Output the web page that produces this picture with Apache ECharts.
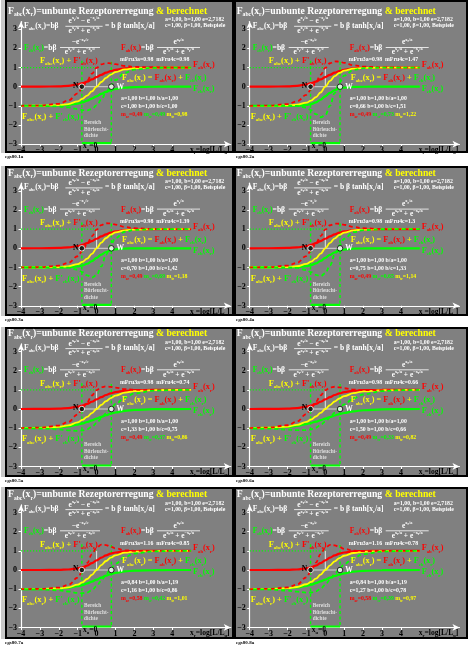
<!DOCTYPE html>
<html><head><meta charset="utf-8">
<script src="https://cdn.jsdelivr.net/npm/echarts@6/dist/echarts.min.js"></script>
<style>html,body{margin:0;padding:0;background:#fff}#c{width:468px;height:646px}</style>
</head><body><div id="c"></div><script>
// ---------- data ----------
const XS = [-4,-3,-2,-1.5,-1,-0.75,-0.5,-0.25,0,0.25,0.5,0.75,1,1.5,2,3,4,5];
const X_TICKS = [-4,-3,-2,-1,0,1,2,3,4];
const Y_TICKS = [-3,-2,-1,0,1,2,3];
// F_ab (red solid)
const F_AB_A100 = [0.000,0.002,0.018,0.047,0.119,0.182,0.269,0.378,0.500,0.622,0.731,0.818,0.881,0.953,0.982,0.998,1.000,1.000];
const F_AB_A084 = [0.000,0.001,0.009,0.027,0.085,0.144,0.233,0.356,0.500,0.645,0.767,0.856,0.915,0.973,0.992,0.999,1.000,1.000];
// F_cb (green solid)
const F_CB_1 = [-1.000,-0.998,-0.982,-0.953,-0.881,-0.818,-0.731,-0.622,-0.500,-0.378,-0.269,-0.182,-0.119,-0.047,-0.018,-0.002,0.000,0.000];
const F_CB_2 = [-1.000,-1.000,-0.998,-0.990,-0.954,-0.907,-0.820,-0.681,-0.500,-0.319,-0.180,-0.093,-0.046,-0.011,-0.002,0.000,0.000,0.000];
const F_CB_3 = [-1.000,-1.000,-0.997,-0.986,-0.946,-0.895,-0.807,-0.671,-0.500,-0.329,-0.193,-0.105,-0.054,-0.014,-0.003,0.000,0.000,0.000];
const F_CB_4 = [-1.000,-1.000,-0.995,-0.982,-0.935,-0.881,-0.791,-0.661,-0.500,-0.339,-0.209,-0.119,-0.065,-0.018,-0.005,0.000,0.000,0.000];
const F_CB_5 = [-0.998,-0.989,-0.953,-0.905,-0.818,-0.755,-0.680,-0.593,-0.500,-0.407,-0.320,-0.245,-0.182,-0.095,-0.047,-0.011,-0.002,-0.001];
const F_CB_6 = [-0.995,-0.982,-0.935,-0.881,-0.791,-0.731,-0.661,-0.583,-0.500,-0.417,-0.339,-0.269,-0.209,-0.119,-0.065,-0.018,-0.005,-0.001];
const F_CB_7 = [-0.999,-0.994,-0.969,-0.930,-0.849,-0.785,-0.703,-0.606,-0.500,-0.394,-0.297,-0.215,-0.151,-0.070,-0.031,-0.006,-0.001,0.000];
const F_CB_8 = [-0.998,-0.991,-0.959,-0.914,-0.828,-0.765,-0.687,-0.597,-0.500,-0.403,-0.313,-0.235,-0.172,-0.086,-0.041,-0.009,-0.002,0.000];
// F_abc (yellow solid)
const F_ABC_1 = [-0.999,-0.995,-0.964,-0.905,-0.762,-0.635,-0.462,-0.245,0.000,0.245,0.462,0.635,0.762,0.905,0.964,0.995,0.999,1.000];
const F_ABC_2 = [-1.000,-0.998,-0.980,-0.942,-0.835,-0.724,-0.551,-0.303,0.000,0.303,0.551,0.724,0.835,0.942,0.980,0.998,1.000,1.000];
const F_ABC_3 = [-1.000,-0.997,-0.979,-0.939,-0.827,-0.713,-0.538,-0.294,0.000,0.294,0.538,0.713,0.827,0.939,0.979,0.997,1.000,1.000];
const F_ABC_4 = [-1.000,-0.997,-0.977,-0.935,-0.816,-0.698,-0.523,-0.283,0.000,0.283,0.523,0.698,0.816,0.935,0.977,0.997,1.000,1.000];
const F_ABC_5 = [-0.997,-0.987,-0.935,-0.858,-0.699,-0.573,-0.411,-0.215,0.000,0.215,0.411,0.573,0.699,0.858,0.935,0.987,0.997,0.999];
const F_ABC_6 = [-0.995,-0.980,-0.917,-0.833,-0.672,-0.549,-0.392,-0.205,0.000,0.205,0.392,0.549,0.672,0.833,0.917,0.980,0.995,0.999];
const F_ABC_7 = [-0.999,-0.994,-0.961,-0.903,-0.764,-0.641,-0.470,-0.251,0.000,0.251,0.470,0.641,0.764,0.903,0.961,0.994,0.999,1.000];
const F_ABC_8 = [-0.998,-0.990,-0.950,-0.887,-0.744,-0.622,-0.454,-0.242,0.000,0.242,0.454,0.622,0.744,0.887,0.950,0.990,0.998,1.000];
// F_abc + F'_ab (red dashed)
const F_ABD_1 = [-0.998,-0.986,-0.895,-0.728,-0.350,-0.050,0.309,0.676,0.980,1.166,1.233,1.220,1.174,1.082,1.033,1.005,1.000,1.000];
const F_ABD_2 = [-0.998,-0.988,-0.910,-0.765,-0.423,-0.140,0.220,0.618,0.980,1.225,1.322,1.309,1.246,1.119,1.049,1.007,1.001,1.000];
const F_ABD_3 = [-0.998,-0.988,-0.909,-0.762,-0.415,-0.128,0.233,0.627,0.980,1.215,1.309,1.297,1.238,1.116,1.048,1.007,1.001,1.000];
const F_ABD_4 = [-0.998,-0.988,-0.908,-0.757,-0.404,-0.114,0.248,0.638,0.980,1.204,1.293,1.283,1.228,1.112,1.047,1.007,1.001,1.000];
const F_ABD_5 = [-0.996,-0.977,-0.866,-0.681,-0.287,0.012,0.360,0.706,0.980,1.137,1.182,1.158,1.111,1.035,1.004,0.996,0.999,0.999];
const F_ABD_6 = [-0.994,-0.970,-0.848,-0.656,-0.261,0.036,0.379,0.716,0.980,1.126,1.163,1.133,1.084,1.011,0.986,0.989,0.996,0.999];
const F_ABD_7 = [-0.999,-0.990,-0.921,-0.779,-0.402,-0.067,0.364,0.818,1.167,1.320,1.304,1.215,1.126,1.027,1.000,0.997,0.999,1.000];
const F_ABD_8 = [-0.998,-0.987,-0.911,-0.763,-0.382,-0.048,0.380,0.827,1.167,1.311,1.289,1.196,1.105,1.011,0.990,0.994,0.998,1.000];
// F_abc + F'_cb (green dashed)
const F_CBD_1 = [-1.001,-1.005,-1.033,-1.082,-1.174,-1.220,-1.233,-1.166,-0.980,-0.676,-0.309,0.050,0.350,0.728,0.895,0.986,0.998,1.000];
const F_CBD_2 = [-1.000,-0.998,-0.994,-1.004,-1.096,-1.227,-1.428,-1.594,-1.485,-0.987,-0.327,0.221,0.574,0.880,0.966,0.997,1.000,1.000];
const F_CBD_3 = [-1.000,-0.999,-0.997,-1.014,-1.114,-1.239,-1.411,-1.529,-1.400,-0.942,-0.335,0.186,0.539,0.864,0.960,0.996,1.000,1.000];
const F_CBD_4 = [-1.000,-0.999,-1.002,-1.027,-1.133,-1.247,-1.385,-1.455,-1.307,-0.888,-0.340,0.150,0.499,0.842,0.952,0.995,1.000,1.000];
const F_CBD_5 = [-1.004,-1.018,-1.067,-1.111,-1.138,-1.118,-1.053,-0.927,-0.737,-0.496,-0.231,0.029,0.261,0.605,0.803,0.955,0.990,0.998];
const F_CBD_6 = [-1.007,-1.026,-1.076,-1.108,-1.104,-1.062,-0.978,-0.841,-0.653,-0.431,-0.194,0.035,0.241,0.559,0.758,0.933,0.982,0.995];
const F_CBD_7 = [-1.002,-1.013,-1.062,-1.123,-1.198,-1.212,-1.175,-1.058,-0.845,-0.556,-0.235,0.070,0.330,0.682,0.860,0.975,0.996,0.999];
const F_CBD_8 = [-1.004,-1.017,-1.072,-1.130,-1.183,-1.176,-1.118,-0.984,-0.772,-0.501,-0.209,0.067,0.305,0.644,0.829,0.964,0.992,0.998];

const RED_SOLID = [F_AB_A100,F_AB_A100,F_AB_A100,F_AB_A100,F_AB_A100,F_AB_A100,F_AB_A084,F_AB_A084];
const GREEN_SOLID = [F_CB_1,F_CB_2,F_CB_3,F_CB_4,F_CB_5,F_CB_6,F_CB_7,F_CB_8];
const YELLOW_SOLID = [F_ABC_1,F_ABC_2,F_ABC_3,F_ABC_4,F_ABC_5,F_ABC_6,F_ABC_7,F_ABC_8];
const RED_DASHED = [F_ABD_1,F_ABD_2,F_ABD_3,F_ABD_4,F_ABD_5,F_ABD_6,F_ABD_7,F_ABD_8];
const GREEN_DASHED = [F_CBD_1,F_CBD_2,F_CBD_3,F_CBD_4,F_CBD_5,F_CBD_6,F_CBD_7,F_CBD_8];

// reference marks (data coordinates)
const GUIDE_DOT_Y1 = [[-4,1],[0,1]];
const GUIDE_V0 = [[0,0],[0,1]];
const GUIDE_H0 = [[-0.78,0],[0.78,0]];
const RANGE_LEFT = [[-0.78,1.35],[-0.78,-2.95]];
const RANGE_RIGHT = [[0.78,1.3],[0.78,-2.95]];
const RANGE_BASE = [[-0.78,-2.95],[0.78,-2.95]];
const POINT_N = [[-0.78,0]];
const POINT_W = [[0.78,0]];

// panel parameter texts
const PANEL_IDS = ['egs80-1a','egs80-2a','egs80-3a','egs80-4a','egs80-5a','egs80-6a','egs80-7a','egs80-8a'];
const A_VAL  = ['1,00','1,00','1,00','1,00','1,00','1,00','0,84','0,84'];
const BA_VAL = ['1,00','1,00','1,00','1,00','1,00','1,00','1,19','1,19'];
const C_VAL  = ['1,00','0,66','0,70','0,75','1,33','1,50','1,16','1,27'];
const BC_VAL = ['1,00','1,51','1,42','1,33','0,75','0,66','0,86','0,78'];
const MFRU3A = ['0.98','0.98','0.98','0.98','0.98','0.98','1.16','1.16'];
const MFRU4C = ['0.98','1.47','1.39','1.3','0.74','0.66','0.85','0.78'];
const M_AR = ['0,49','0,49','0,49','0,49','0,49','0,49','0,58','0,58'];
const M_CR = ['0,49','0,73','0,69','0,65','0,37','0,33','0,42','0,39'];
const M_TR = ['0,98','1,22','1,18','1,14','0,86','0,82','1,01','0,97'];

// ---------- layout ----------
const COL_X0 = [21, 249.7];           // px of x=-4
const ROW_Y0 = [86.7, 248.3, 409, 570]; // px of y=0
const SX = 18.9, SY = 19.15;
const XMIN = -4, XMAX = 7.1, YMIN = -3, YMAX = 3.4;
const BOX_L = [5, 234], BOX_W = [229, 234];
const BOX_T = [0, 166, 327, 487], BOX_H = [153, 150, 150, 152];
const FONT = 'Liberation Serif';
const COLORS = {w:'#ffffff', y:'#ffff00', r:'#ff0000', g:'#00ff00', k:'#000000', l:'#dedede'};
const BG = '#808080';
const SUB = 0.58;

function parseSpec(spec, col0) {
  const toks = []; let col = col0 || 'w'; let i = 0; let buf = '';
  const flush = () => { if (buf) { toks.push([buf, 'n', col]); buf = ''; } };
  while (i < spec.length) {
    const ch = spec[i];
    if (ch === '§') { flush(); col = spec[i + 1]; i += 2; continue; }
    if ((ch === '_' || ch === '^' || ch === '~') && spec[i + 1] === '{') {
      flush(); const j = spec.indexOf('}', i);
      toks.push([spec.slice(i + 2, j), ch === '_' ? 's' : (ch === '^' ? 'p' : 'q'), col]);
      i = j + 1; continue;
    }
    buf += ch; i++;
  }
  flush();
  return toks;
}
function richText(spec, size, col0) {
  const toks = parseSpec(spec, col0);
  const rich = {}; let text = '';
  toks.forEach(([t, k, c]) => {
    const name = k + c;
    if (!rich[name]) {
      const st = {fill: COLORS[c], fontFamily: FONT, fontWeight: 'bold'};
      if (k === 'n') { st.fontSize = size; st.lineHeight = Math.round(size * 1.35); st.verticalAlign = 'middle'; }
      else if (k === 's') { st.fontSize = +(size * SUB).toFixed(2); st.verticalAlign = 'bottom'; }
      else if (k === 'p') { st.fontSize = +(size * SUB).toFixed(2); st.verticalAlign = 'top'; }
      else { st.fontSize = +(size * 0.45).toFixed(2); st.verticalAlign = 'top'; st.padding = [size * 0.3, 0, 0, 0]; }
      rich[name] = st;
    }
    text += '{' + name + '|' + t + '}';
  });
  return {text, rich};
}
function textEl(x, y, spec, size, col, align) {
  const r = richText(spec, size, col);
  return {type: 'text', x: x, y: y, z: 100, silent: true,
    style: {text: r.text, rich: r.rich, fill: COLORS[col || 'w'], fontFamily: FONT, fontWeight: 'bold',
      fontSize: size, textAlign: align || 'left', textVerticalAlign: 'middle'}};
}
function fracEls(x0, y0, cx, dyBar, halfW, numSpec, denSpec, size) {
  return [
    textEl(x0 + cx, y0 + dyBar - 5, numSpec, size, 'w', 'center'),
    {type: 'line', z: 100, silent: true, shape: {x1: x0 + cx - halfW, y1: y0 + dyBar, x2: x0 + cx + halfW, y2: y0 + dyBar},
      style: {stroke: '#ffffff', lineWidth: 0.8}},
    textEl(x0 + cx, y0 + dyBar + 4.8, denSpec, size, 'w', 'center')
  ];
}

const grids = [], xAxes = [], yAxes = [], series = [], graphics = [];
const fmt = lim => v => (v > lim ? '' : (v < 0 ? '\u2212' + Math.abs(v) : String(v)));

for (let i = 0; i < 8; i++) {
  const col = i % 2, row = Math.floor(i / 2);
  const X0 = COL_X0[col], Y0 = ROW_Y0[row];
  // frame
  graphics.push({type: 'rect', z: -20, silent: true, shape: {x: BOX_L[col], y: BOX_T[row], width: BOX_W[col], height: BOX_H[row]}, style: {fill: '#000'}});
  graphics.push({type: 'rect', z: -19, silent: true, shape: {x: BOX_L[col] + 2, y: BOX_T[row] + 2, width: BOX_W[col] - 4, height: BOX_H[row] - 4}, style: {fill: BG}});
  if (col === 0) graphics.push({type: 'rect', z: -19, silent: true, shape: {x: 1, y: BOX_T[row], width: 4, height: BOX_H[row]}, style: {fill: '#c8c8c8'}});
  graphics.push(textEl(BOX_L[col] + (col ? 2 : 0), BOX_T[row] + BOX_H[row] + 4, PANEL_IDS[i], 5, 'k', 'left'));

  grids.push({left: X0, top: Y0 - YMAX * SY, width: (XMAX - XMIN) * SX, height: (YMAX - YMIN) * SY, outerBoundsMode: 'none', containLabel: false});
  const axLine = {show: true, onZero: false, lineStyle: {color: '#ffffff', width: 1.2}, symbol: ['none', 'arrow'], symbolSize: [5, 7]};
  xAxes.push({type: 'value', gridIndex: i, min: XMIN, max: XMAX, interval: 1, axisLine: axLine,
    axisTick: {show: true, customValues: X_TICKS, length: 2.5, lineStyle: {color: '#ffffff', width: 1}},
    axisLabel: {customValues: X_TICKS, formatter: fmt(4), color: '#000', fontFamily: FONT, fontWeight: 'bold', fontSize: 8, margin: 2},
    splitLine: {show: false}});
  yAxes.push({type: 'value', gridIndex: i, min: YMIN, max: YMAX, interval: 1, axisLine: axLine,
    axisTick: {show: true, customValues: Y_TICKS, length: 2.5, lineStyle: {color: '#ffffff', width: 1}},
    axisLabel: {customValues: Y_TICKS, formatter: fmt(3), color: '#000', fontFamily: FONT, fontWeight: 'bold', fontSize: 8, margin: 4},
    splitLine: {show: false}});

  const base = {type: 'line', xAxisIndex: i, yAxisIndex: i, showSymbol: false, silent: true, animation: false};
  const pts = ys => XS.map((x, j) => [x, ys[j]]);
  series.push(Object.assign({}, base, {data: GUIDE_DOT_Y1, z: 1, lineStyle: {color: '#00ff00', width: 1.2, type: [1.2, 1.8]}}));
  series.push(Object.assign({}, base, {data: GUIDE_V0, z: 1, lineStyle: {color: '#e6e6e6', width: 1}}));
  series.push(Object.assign({}, base, {data: GUIDE_H0, z: 1, lineStyle: {color: '#d0d0d0', width: 1}}));
  series.push(Object.assign({}, base, {data: RANGE_LEFT, z: 1, lineStyle: {color: '#00ff00', width: 1.4, type: [3, 2.5]}}));
  series.push(Object.assign({}, base, {data: RANGE_RIGHT, z: 1, lineStyle: {color: '#00ff00', width: 1.4, type: [3, 2.5]}}));
  series.push(Object.assign({}, base, {data: RANGE_BASE, z: 1, lineStyle: {color: '#00ff00', width: 2.2}}));
  const sm = {smooth: 0.4, smoothMonotone: 'x'};
  series.push(Object.assign({}, base, sm, {data: pts(RED_SOLID[i]), z: 2, lineStyle: {color: '#ff0000', width: 2.2}}));
  series.push(Object.assign({}, base, sm, {data: pts(GREEN_SOLID[i]), z: 2, lineStyle: {color: '#00ff00', width: 2.2}}));
  series.push(Object.assign({}, base, sm, {data: pts(YELLOW_SOLID[i]), z: 3, lineStyle: {color: '#ffff00', width: 1.8}}));
  series.push(Object.assign({}, base, sm, {data: pts(RED_DASHED[i]), z: 4, lineStyle: {color: '#ff0000', width: 1.8, type: [4, 3]}}));
  series.push(Object.assign({}, base, sm, {data: pts(GREEN_DASHED[i]), z: 4, lineStyle: {color: '#00ff00', width: 1.8, type: [4, 3], dashOffset: 3.5}}));
  series.push({type: 'scatter', xAxisIndex: i, yAxisIndex: i, silent: true, animation: false, z: 6, data: POINT_N, symbolSize: 5.5,
    itemStyle: {color: '#000000', borderColor: '#ffffff', borderWidth: 1}});
  series.push({type: 'scatter', xAxisIndex: i, yAxisIndex: i, silent: true, animation: false, z: 6, data: POINT_W, symbolSize: 5.5,
    itemStyle: {color: '#ffffff', borderColor: '#000000', borderWidth: 1}});

  // texts
  graphics.push(textEl(X0 - 13, Y0 - 75.2, 'F_{abc}(x_{r})=unbunte Rezeptorerregung §y& berechnet', 9.7));
  graphics.push(textEl(X0 + 3, Y0 - 61, 'F_{abc}(x_{r})=bβ', 7.6));
  graphics.push(...fracEls(X0, Y0, 63, -60.4, 18.6, 'e^{x}~{r}^{/a} − e^{−x}~{r}^{/a}', 'e^{x}~{r}^{/a} + e^{−x}~{r}^{/a}', 7.4));
  graphics.push(textEl(X0 + 84, Y0 - 61, '= b β tanh[x_{r}/a]', 7.6));
  graphics.push(textEl(X0 + 144, Y0 - 66.7, 'a=1,00, b=1,00 e=2,7182', 5.8));
  graphics.push(textEl(X0 + 144, Y0 - 60.7, 'c=1,00, β=1,00, Beispiele', 5.8));
  graphics.push(textEl(X0 + 3, Y0 - 38.7, '§gF_{cb}(x_{r})§w=bβ', 7.6));
  graphics.push(...fracEls(X0, Y0, 59, -39.2, 20, '−e^{−x}~{r}^{/c}', 'e^{x}~{r}^{/c} + e^{−x}~{r}^{/c}', 7.4));
  graphics.push(textEl(X0 + 100, Y0 - 38.7, '§rF_{ab}(x_{r})§w=bβ', 7.6));
  graphics.push(...fracEls(X0, Y0, 157.5, -39.2, 21.5, 'e^{x}~{r}^{/a}', 'e^{x}~{r}^{/a} + e^{−x}~{r}^{/a}', 7.4));
  graphics.push(textEl(X0 + 19, Y0 - 25.5, "§yF_{abc}(x_{r}) + §rF'_{ab}(x_{r})", 8.4));
  graphics.push(textEl(X0 + 99, Y0 - 26.7, 'mFru3a=' + MFRU3A[i] + '  mFru4c=' + MFRU4C[i], 5.8));
  graphics.push(textEl(X0 + 172, Y0 - 21.7, '§rF_{ab}(x_{r})', 8.2));
  graphics.push(textEl(X0 + 101, Y0 - 8.7, '§yF_{abc}(x_{r}) = §rF_{ab}(x_{r})§y + §gF_{cb}(x_{r})', 8.2));
  graphics.push(textEl(X0 + 172, Y0 + 2.3, '§gF_{cb}(x_{r})', 8.2));
  graphics.push(textEl(X0 + 57.5, Y0 - 0.5, 'N', 7.5, 'k', 'right'));
  graphics.push(textEl(X0 + 95.5, Y0 + 0, 'W', 7.5, 'w', 'left'));
  graphics.push(textEl(X0 + 100, Y0 + 12.3, 'a=' + A_VAL[i] + ' b=1,00 b/a=' + BA_VAL[i], 5.8));
  graphics.push(textEl(X0 + 100, Y0 + 20.3, 'c=' + C_VAL[i] + ' b=1,00 b/c=' + BC_VAL[i], 5.8));
  graphics.push(textEl(X0 + 100, Y0 + 28.3, '§rm_{ar}=' + M_AR[i] + ' §gm_{cr}=' + M_CR[i] + ' §ym_{tr}=' + M_TR[i], 5.8));
  graphics.push(textEl(X0 + 1, Y0 + 30.3, "§yF_{abc}(x_{r}) + §gF'_{cb}(x_{r})", 8.4));
  graphics.push(textEl(X0 + 63, Y0 + 36, 'Bereich', 5.3, 'l'));
  graphics.push(textEl(X0 + 63, Y0 + 42.5, 'Bürleucht-', 5.3, 'l'));
  graphics.push(textEl(X0 + 63, Y0 + 49, 'dichte', 5.3, 'l'));
  graphics.push(textEl(X0 + 62, Y0 + 59.8, 'x_{u}=0', 7.6, 'k'));
  graphics.push(textEl(X0 + 169, Y0 + 63.3, 'x_{r}=log[L/L_{u}]', 7.6, 'k'));
}

const chart = echarts.init(document.getElementById('c'), null, {renderer: 'canvas'});
chart.setOption({
  backgroundColor: '#ffffff',
  animation: false,
  grid: grids, xAxis: xAxes, yAxis: yAxes, series: series,
  graphic: {elements: graphics}
});
</script></body></html>
